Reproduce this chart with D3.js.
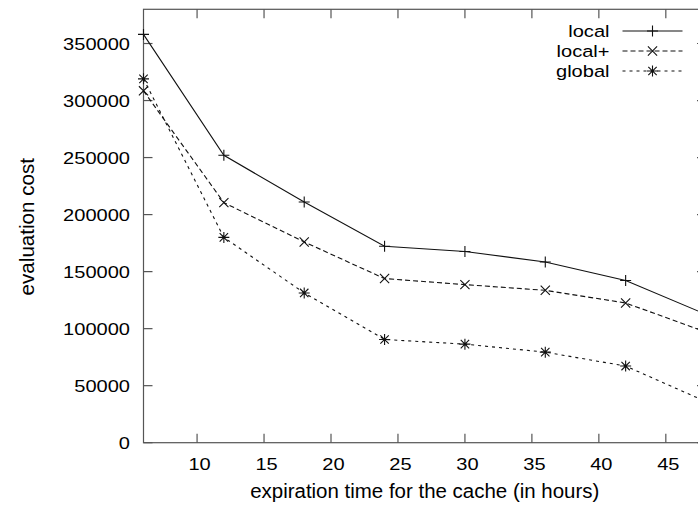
<!DOCTYPE html>
<html><head><meta charset="utf-8">
<script src="https://cdn.jsdelivr.net/npm/d3@7"></script>
<style>html,body{margin:0;padding:0;background:#fff;overflow:hidden}</style>
</head><body><svg id="c" width="698" height="507"></svg>
<script>
// ---- data ----
const hours = [6, 12, 18, 24, 30, 36, 42, 48];
const localVals = [358000, 252000, 211000, 172300, 167700, 158400, 142200, 112500];
const localPlusVals = [308500, 210500, 176000, 143900, 138600, 133600, 122500, 97000];
const globalVals = [319000, 180000, 131300, 90500, 86400, 79400, 67200, 36000];
const seriesNames = ["local", "local+", "global"];
const xTickVals = [10, 15, 20, 25, 30, 35, 40, 45];
const yTickVals = [0, 50000, 100000, 150000, 200000, 250000, 300000, 350000];
const xLabel = "expiration time for the cache (in hours)";
const yLabel = "evaluation cost";

// ---- layout ----
const L = 143.5, R = 706, T = 9.3, B = 442.7;
const FS = 17, SX = 1.18;
const svg = d3.select("#c");
const x = d3.scaleLinear().domain([6, 48]).range([L, R]);
const y = d3.scaleLinear().domain([0, 380000]).range([B, T]);
const axisColor = "#555";
const font = "'Liberation Sans', Arial, Helvetica, sans-serif";

function txt(tx, ty, s, anchor, rot, sx, fs) {
  svg.append("text")
    .attr("transform", `translate(${tx},${ty})` + (rot ? ` rotate(${rot})` : "") + ` scale(${sx || SX},1)`)
    .attr("text-anchor", anchor)
    .attr("font-family", font)
    .attr("font-size", fs || FS)
    .attr("fill", "#000")
    .text(s);
}

// frame
const g = svg.append("g").attr("stroke", axisColor).attr("fill", "none").attr("stroke-width", 1.2);
g.append("rect").attr("x", L).attr("y", T).attr("width", R - L).attr("height", B - T);

// ticks (inward, mirrored)
const tl = 9;
xTickVals.forEach(v => {
  const px = x(v);
  g.append("line").attr("x1", px).attr("x2", px).attr("y1", B).attr("y2", B - tl);
  g.append("line").attr("x1", px).attr("x2", px).attr("y1", T).attr("y2", T + tl);
  txt(px + 2.5, 469.5, d3.format("d")(v), "middle");
});
yTickVals.forEach(v => {
  const py = y(v);
  g.append("line").attr("x1", L).attr("x2", L + tl).attr("y1", py).attr("y2", py);
  g.append("line").attr("x1", R).attr("x2", R - tl).attr("y1", py).attr("y2", py);
  txt(130, py + 6.2, d3.format("d")(v), "end");
});

// axis labels
txt((L + R) / 2, 497.5, xLabel, "middle", 0, 1.05, 19.5);
txt(33.5, 226.7, yLabel, "middle", -90, 1.03, 20);

// markers
function marker(sel, kind, px, py) {
  let d = "";
  if (kind === "plus" || kind === "star") {
    const h = 5.5;
    d += `M${px - h},${py}H${px + h}M${px},${py - h}V${py + h}`;
  }
  if (kind === "cross" || kind === "star") {
    const h = kind === "star" ? 4.2 : 4.6;
    d += `M${px - h},${py - h}L${px + h},${py + h}M${px - h},${py + h}L${px + h},${py - h}`;
  }
  sel.append("path").attr("d", d).attr("stroke", "#111").attr("stroke-width", 1.1).attr("fill", "none");
}

const series = [
  { name: seriesNames[0], vals: localVals, dash: null, mk: "plus" },
  { name: seriesNames[1], vals: localPlusVals, dash: "5,3", mk: "cross" },
  { name: seriesNames[2], vals: globalVals, dash: "3,4", mk: "star" }
];
const line = d3.line().x(d => x(d[0])).y(d => y(d[1]));
const legendY = [31, 51, 71];
series.forEach((s, i) => {
  const pts = hours.map((h, k) => [h, s.vals[k]]);
  svg.append("path").attr("d", line(pts)).attr("fill", "none")
    .attr("stroke", "#111").attr("stroke-width", 1.1)
    .attr("stroke-dasharray", s.dash);
  pts.forEach(p => marker(svg, s.mk, x(p[0]), y(p[1])));
  // legend
  const ly = legendY[i];
  txt(609.5, ly + 6, s.name, "end");
  svg.append("line").attr("x1", 622.5).attr("x2", 682.5).attr("y1", ly).attr("y2", ly)
    .attr("stroke", "#111").attr("stroke-width", 1.1).attr("stroke-dasharray", s.dash);
  marker(svg, s.mk, 652.5, ly);
});
</script></body></html>
